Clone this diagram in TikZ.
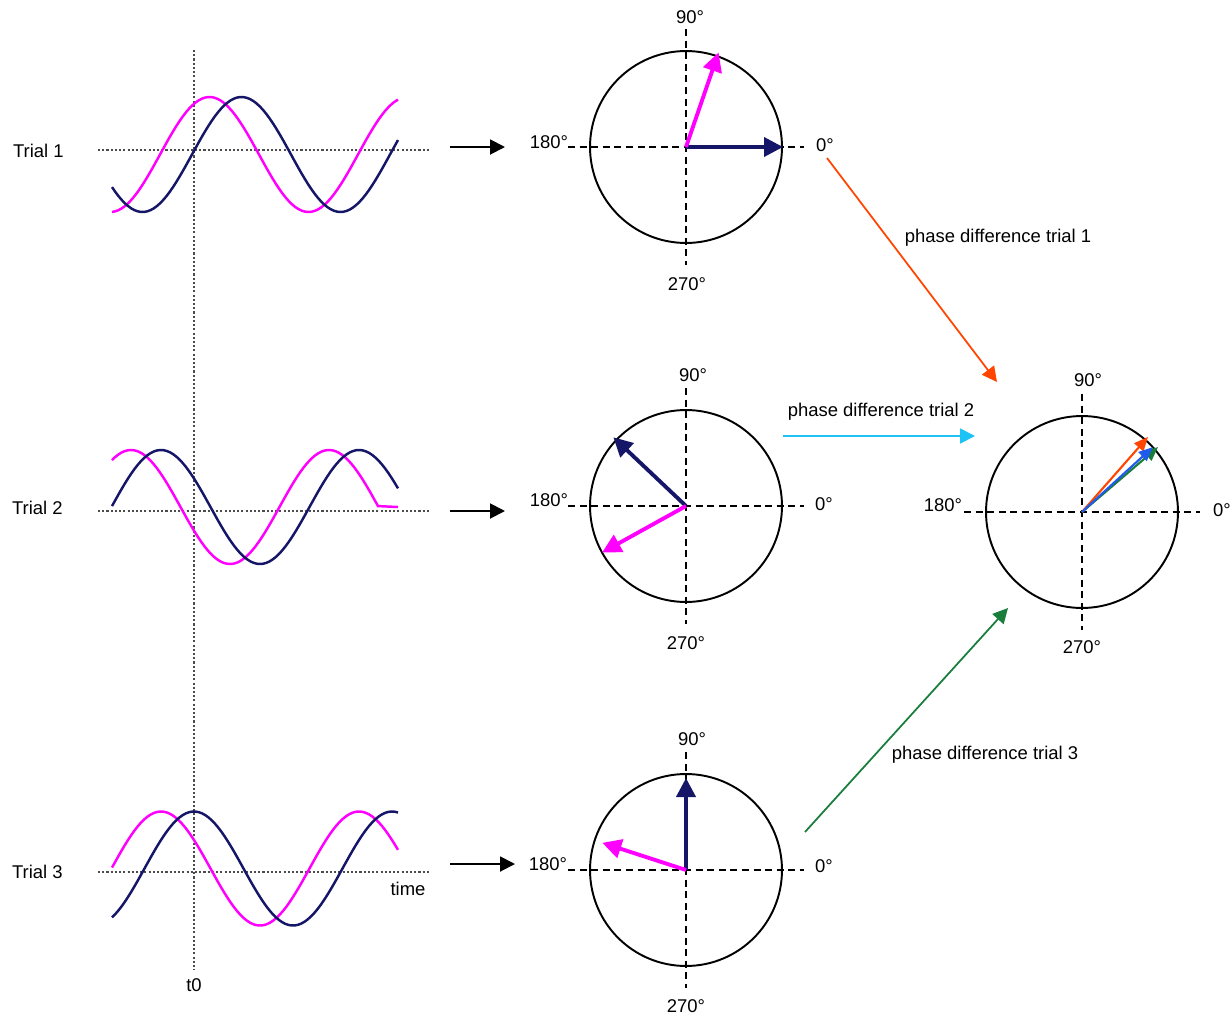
\documentclass[tikz,border=0pt]{standalone}
\usepackage{fontspec}
\setmainfont{Liberation Sans}
\usepackage{xcolor}
\usepackage{tikz}
\usetikzlibrary{arrows.meta, positioning}

\definecolor{wavenavy}{RGB}{22,22,105}
\definecolor{wavepink}{RGB}{255,0,255}
\definecolor{diffred}{RGB}{255,69,0}
\definecolor{diffcyan}{RGB}{30,195,245}
\definecolor{diffgreen}{RGB}{25,125,60}
\definecolor{diffblue}{RGB}{30,90,235}

\begin{document}
\begin{tikzpicture}[
    x=0.02cm, y=0.02cm,
    lbl/.style={font=\fontsize{10.5}{12}\selectfont, inner sep=1pt},
    guide/.style={dash pattern=on 1.2pt off 1.2pt, line width=1.2pt, black!70},
    wave/.style={line width=1.4pt},
    dial/.style={draw, circle, minimum size=3.84cm, inner sep=0pt, line width=1.1pt},
    dialaxis/.style={dash pattern=on 4pt off 2.6pt, line width=0.9pt},
    phasor/.style={line width=2.2pt, -{Triangle[length=0.38cm, width=0.38cm]}},
    diffphasor/.style={line width=1.2pt, -{Triangle[length=0.28cm, width=0.24cm]}},
    arrow/.style={line width=1.1pt, -{Triangle[length=0.3cm, width=0.3cm]}},
    diffarrow/.style={line width=1pt, -{Triangle[length=0.3cm, width=0.3cm]}}
]
    \useasboundingbox (0,0) rectangle (1231,-1018);

    % Trials
    \node[lbl, anchor=west] (trial1) at (11,-151) {Trial 1};
    \node[lbl, anchor=west] (trial2) at (10,-508) {Trial 2};
    \node[lbl, anchor=west] (trial3) at (10,-872) {Trial 3};
    \node[lbl] (time) at (408,-889) {time};
    \node[lbl] (tzero) at (194,-985) {t0};

    \draw[guide] (194,-50) -- (194,-970);
    \draw[guide] (98,-150) -- (430,-150);
    \draw[guide] (98,-511) -- (430,-511);
    \draw[guide] (98,-872) -- (430,-872);

    % 1.81818 = 360/198 (period in px)
    \draw[wave, wavepink] plot[domain=112:398, samples=90] (\x, {-154.5+57.5*sin(1.81818*(\x-160))});
    \draw[wave, wavenavy] plot[domain=112:398, samples=90] (\x, {-154.5+57.5*sin(1.81818*(\x-192))});
    \draw[wave, wavepink] plot[domain=112:378, samples=90] (\x, {-507+57*sin(1.81818*(\x-81.5))}) -- (398,-507);
    \draw[wave, wavenavy] plot[domain=112:398, samples=90] (\x, {-507+57*sin(1.81818*(\x-111.5))});
    \draw[wave, wavepink] plot[domain=112:398, samples=90] (\x, {-868.5+57*sin(1.81818*(\x-111.5))});
    \draw[wave, wavenavy] plot[domain=112:398, samples=90] (\x, {-868.5+57*sin(1.81818*(\x-144.5))});

    % Dials
    \node[dial] (dial1) at (686,-147) {};
    \node[dial] (dial2) at (686,-506) {};
    \node[dial] (dial3) at (686,-870) {};
    \node[dial] (dialsum) at (1082,-512) {};

    \draw[dialaxis] (dial1.center) ++(-118,0) -- ++(236,0);
    \draw[dialaxis] (dial1.center) ++(0,118) -- ++(0,-236);
    \draw[dialaxis] (dial2.center) ++(-118,0) -- ++(236,0);
    \draw[dialaxis] (dial2.center) ++(0,118) -- ++(0,-236);
    \draw[dialaxis] (dial3.center) ++(-118,0) -- ++(236,0);
    \draw[dialaxis] (dial3.center) ++(0,118) -- ++(0,-236);
    \draw[dialaxis] (dialsum.center) ++(-118,0) -- ++(236,0);
    \draw[dialaxis] (dialsum.center) ++(0,118) -- ++(0,-236);

    \node[lbl] (d1top) at (690,-17) {90°};
    \node[lbl] (d1left) at (549,-142) {180°};
    \node[lbl] (d1right) at (825,-145) {0°};
    \node[lbl] (d1bottom) at (687,-284) {270°};
    \node[lbl] (d2top) at (693,-375) {90°};
    \node[lbl] (d2left) at (549,-500) {180°};
    \node[lbl] (d2right) at (824,-504) {0°};
    \node[lbl] (d2bottom) at (686,-643) {270°};
    \node[lbl] (d3top) at (692,-739) {90°};
    \node[lbl] (d3left) at (548,-864) {180°};
    \node[lbl] (d3right) at (824,-866) {0°};
    \node[lbl] (d3bottom) at (686,-1006) {270°};
    \node[lbl] (dstop) at (1088,-380) {90°};
    \node[lbl] (dsleft) at (943,-505) {180°};
    \node[lbl] (dsright) at (1222,-510) {0°};
    \node[lbl] (dsbottom) at (1082,-647) {270°};

    % Phasors
    \draw[phasor, wavenavy] (dial1.center) -- ++(0:97);
    \draw[phasor, wavepink] (dial1.center) -- ++(71:100);
    \draw[phasor, wavenavy] (dial2.center) -- ++(136.6:100);
    \draw[phasor, wavepink] (dial2.center) -- ++(209:96);
    \draw[phasor, wavenavy] (dial3.center) -- ++(90:92);
    \draw[phasor, wavepink] (dial3.center) -- ++(162:88);
    \draw[diffphasor, diffgreen] (dialsum.center) -- ++(40.5:100);
    \draw[diffphasor, diffred] (dialsum.center) -- ++(48.7:100);
    \draw[diffphasor, diffblue] (dialsum.center) -- ++(42.5:96);

    % Transitions
    \coordinate (out1) at (450,-147);  \coordinate (in1) at (505,-147);
    \coordinate (out2) at (450,-511);  \coordinate (in2) at (505,-511);
    \coordinate (out3) at (450,-864);  \coordinate (in3) at (515,-864);
    \draw[arrow] (out1) -- (in1);
    \draw[arrow] (out2) -- (in2);
    \draw[arrow] (out3) -- (in3);

    \coordinate (diff1s) at (827,-158); \coordinate (diff1e) at (997,-382);
    \coordinate (diff2s) at (783,-436); \coordinate (diff2e) at (975,-436);
    \coordinate (diff3s) at (805,-832); \coordinate (diff3e) at (1008,-608);
    \draw[diffarrow, diffred] (diff1s) -- (diff1e);
    \draw[diffarrow, diffcyan] (diff2s) -- (diff2e);
    \draw[diffarrow, diffgreen] (diff3s) -- (diff3e);
    \node[lbl] (pd1) at (998,-238) {phase difference trial 1};
    \node[lbl] (pd2) at (881,-412) {phase difference trial 2};
    \node[lbl] (pd3) at (985,-755) {phase difference trial 3};

\end{tikzpicture}
\end{document}
